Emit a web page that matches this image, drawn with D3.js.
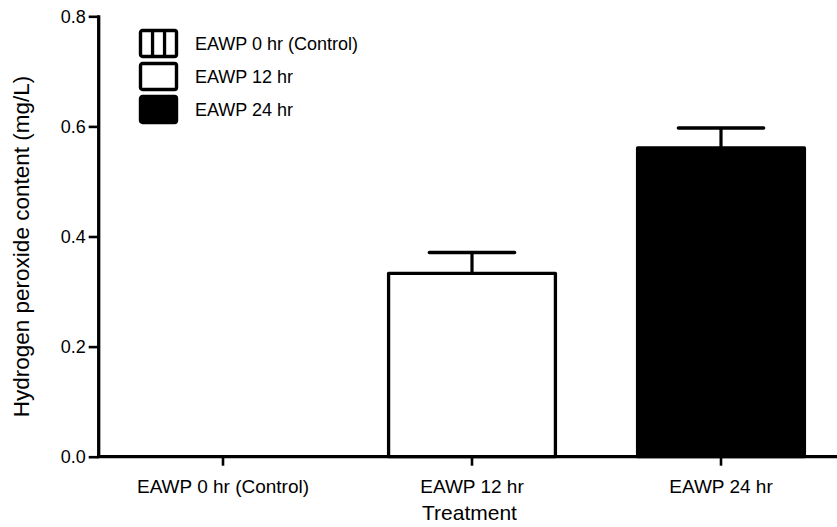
<!DOCTYPE html>
<html>
<head>
<meta charset="utf-8">
<script src="https://cdn.jsdelivr.net/npm/d3@7"></script>
<style>
  html, body { margin: 0; padding: 0; background: #fff; }
  svg { display: block; font-family: "Liberation Sans", Arial, Helvetica, sans-serif; }
</style>
</head>
<body>
<svg id="chart" width="837" height="527"></svg>
<script>
// ---- data ----
const categories = ["EAWP 0 hr (Control)", "EAWP 12 hr", "EAWP 24 hr"];
const means = [0, 0.333, 0.561];
const sems = [0, 0.038, 0.036];
const fills = ["stripe", "white", "black"];
const yTicks = [0.0, 0.2, 0.4, 0.6, 0.8];
const yTitle = "Hydrogen peroxide content (mg/L)";
const xTitle = "Treatment";

const svg = d3.select("#chart");
const W = 837, H = 527;

const x = d3.scaleBand()
  .domain(categories)
  .range([98.5, 845.5])
  .paddingInner(0.33)
  .paddingOuter(0.165);

const y = d3.scaleLinear().domain([0, 0.8]).range([456.7, 16.3]);

const defs = svg.append("defs");
const pat = defs.append("pattern")
  .attr("id", "stripes")
  .attr("patternUnits", "userSpaceOnUse")
  .attr("width", 12).attr("height", 12);
pat.append("rect").attr("width", 12).attr("height", 12).attr("fill", "#fff");
pat.append("rect").attr("x", 0).attr("width", 3.3).attr("height", 12).attr("fill", "#000");

const fillOf = f => f === "stripe" ? "url(#stripes)" : (f === "black" ? "#000" : "#fff");

const data = categories.map((c, i) => ({ c, m: means[i], e: sems[i], f: fills[i] }));

// ---- error bars (behind bars) ----
const capW = x.bandwidth() * 0.51;
const eb = svg.append("g").selectAll("g").data(data.filter(d => d.e > 0)).join("g");
eb.append("line")
  .attr("x1", d => x(d.c) + x.bandwidth() / 2)
  .attr("x2", d => x(d.c) + x.bandwidth() / 2)
  .attr("y1", d => y(d.m))
  .attr("y2", d => y(d.m + d.e))
  .attr("stroke", "#000").attr("stroke-width", 3.2);
eb.append("line")
  .attr("x1", d => x(d.c) + x.bandwidth() / 2 - capW / 2)
  .attr("x2", d => x(d.c) + x.bandwidth() / 2 + capW / 2)
  .attr("y1", d => y(d.m + d.e))
  .attr("y2", d => y(d.m + d.e))
  .attr("stroke", "#000").attr("stroke-width", 3.6)
  .attr("stroke-linecap", "round");

// ---- bars ----
svg.append("g").selectAll("rect").data(data).join("rect")
  .attr("x", d => x(d.c))
  .attr("width", x.bandwidth())
  .attr("y", d => y(d.m))
  .attr("height", d => y(0) - y(d.m))
  .attr("fill", d => fillOf(d.f))
  .attr("stroke", "#000")
  .attr("stroke-width", 3.3)
  .attr("stroke-linejoin", "round");

// ---- y axis ----
const yAxis = svg.append("g")
  .attr("transform", `translate(${98.7},0)`)
  .call(d3.axisLeft(y).tickValues(yTicks).tickFormat(d3.format(".1f")).tickSize(10).tickPadding(3));
yAxis.select(".domain").attr("stroke", "#000").attr("stroke-width", 3.3)
  .attr("d", `M0,${y(0.8) - 1}V${y(0)}`);
yAxis.selectAll(".tick line").attr("stroke", "#000").attr("stroke-width", 2.6);
yAxis.selectAll(".tick text").attr("font-size", 18).attr("fill", "#000")
  .attr("font-family", "'Liberation Sans', Arial, sans-serif");

// ---- x axis ----
const xAxis = svg.append("g")
  .attr("transform", `translate(0,${y(0)})`)
  .call(d3.axisBottom(x).tickSize(9).tickPadding(14));
xAxis.select(".domain").attr("stroke", "#000").attr("stroke-width", 3.3)
  .attr("d", `M${97}, 0H${W + 5}`);
xAxis.selectAll(".tick line").attr("stroke", "#000").attr("stroke-width", 2.6);
xAxis.selectAll(".tick text").attr("font-size", 19).attr("fill", "#000")
  .attr("font-family", "'Liberation Sans', Arial, sans-serif");

// ---- axis titles ----
svg.append("text")
  .attr("x", x.range()[0] + (x.range()[1] - x.range()[0]) / 2 - 2.5)
  .attr("y", 520)
  .attr("text-anchor", "middle")
  .attr("font-size", 21)
  .text(xTitle);

svg.append("text")
  .attr("transform", `translate(29,${(y(0) + y(0.8)) / 2 + 10}) rotate(-90)`)
  .attr("text-anchor", "middle")
  .attr("font-size", 22.5)
  .text(yTitle);

// ---- legend ----
const lg = svg.append("g").attr("transform", "translate(140.5,30.5)");
const items = lg.selectAll("g").data(data).join("g")
  .attr("transform", (d, i) => `translate(0,${i * 33})`);
items.append("rect")
  .attr("width", 36).attr("height", 26)
  .attr("rx", 2)
  .attr("fill", d => d.f === "black" ? "#000" : "#fff")
  .attr("stroke", "#000").attr("stroke-width", 3.4);
items.filter(d => d.f === "stripe").each(function() {
  const g = d3.select(this);
  [12, 24].forEach(px => g.append("rect").attr("x", px - 1.6).attr("y", 0).attr("width", 3.3).attr("height", 26).attr("fill", "#000"));
});
items.append("text")
  .attr("x", 54.5)
  .attr("y", 19.5)
  .attr("font-size", 18)
  .attr("fill", "#000")
  .text(d => d.c);
</script>
</body>
</html>
